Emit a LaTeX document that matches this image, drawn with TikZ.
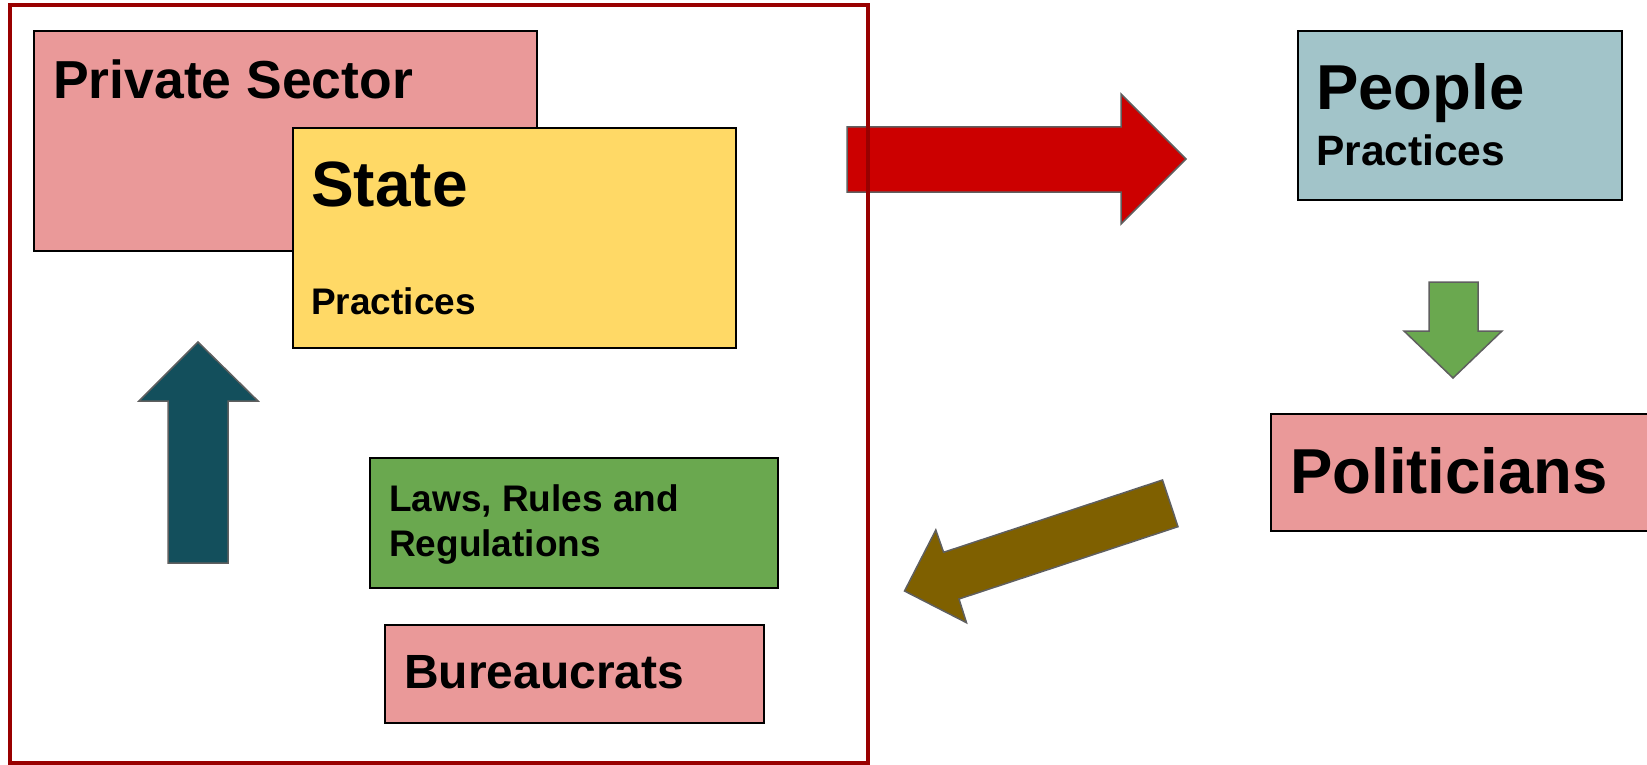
\documentclass[tikz,border=0pt]{standalone}
\usepackage{fontspec}
\setmainfont{Liberation Sans}
\begin{document}
\begin{tikzpicture}[x=1pt,y=-1pt]
\definecolor{rose}{HTML}{EA9999}
\definecolor{gold}{HTML}{FFD966}
\definecolor{leaf}{HTML}{6AA84F}
\definecolor{steel}{HTML}{A2C4C9}
\definecolor{framered}{HTML}{990000}
\definecolor{arrowred}{HTML}{CC0000}
\definecolor{teal}{HTML}{134F5C}
\definecolor{olive}{HTML}{7F6000}
\definecolor{arrowedge}{HTML}{5F5F5F}
\tikzset{
  box/.style={draw=black, line width=2pt, inner sep=0pt, anchor=north west},
  lbl/.style={anchor=base west, inner sep=0pt, font=\bfseries},
  blockarrow/.style={draw=arrowedge, line width=1.5pt, line join=miter},
}
\useasboundingbox (0,0) rectangle (1647,765);
\clip (0,0) rectangle (1647,765);

% boxes of the left panel
\node[box, fill=rose, minimum width=503pt, minimum height=220pt] (privbox) at (33,30) {};
\node[lbl, font=\bfseries\fontsize{53.5}{64}\selectfont] (privtxt) at (53,99) {Private Sector};
\node[box, fill=gold, minimum width=443pt, minimum height=220pt] (statebox) at (292,127) {};
\node[lbl, font=\bfseries\fontsize{64}{76}\selectfont] (statetxt) at (311,207) {State};
\node[lbl, font=\bfseries\fontsize{37}{44}\selectfont] (statepr) at (311,314) {Practices};
\node[box, fill=leaf, minimum width=408pt, minimum height=130pt] (lawsbox) at (369,457) {};
\node[lbl, font=\bfseries\fontsize{37}{44}\selectfont] (lawsone) at (389,511) {Laws, Rules and};
\node[lbl, font=\bfseries\fontsize{37}{44}\selectfont] (lawstwo) at (389,556) {Regulations};
\node[box, fill=rose, minimum width=379pt, minimum height=98pt] (burbox) at (384,624) {};
\node[lbl, font=\bfseries\fontsize{48}{58}\selectfont] (burtxt) at (404,688) {Bureaucrats};

% boxes of the right side
\node[box, fill=steel, minimum width=324pt, minimum height=169pt] (peoplebox) at (1297,30) {};
\node[lbl, font=\bfseries\fontsize{63.5}{76}\selectfont] (peopletxt) at (1316,110) {People};
\node[lbl, font=\bfseries\fontsize{42.5}{51}\selectfont] (peoplepr) at (1316,165) {Practices};
\node[box, fill=rose, minimum width=400pt, minimum height=117pt] (polbox) at (1270,413) {};
\node[lbl, font=\bfseries\fontsize{63.5}{76}\selectfont] (poltxt) at (1290,493) {Politicians};

% block arrows
\draw[blockarrow, fill=teal] (198,342) -- (258,401) -- (228,401) -- (228,563)
  -- (168,563) -- (168,401) -- (139,401) -- cycle;
\draw[blockarrow, fill=arrowred] (847,127) -- (1121,127) -- (1121,94) -- (1186,159)
  -- (1121,224) -- (1121,192) -- (847,192) -- cycle;
\draw[blockarrow, fill=leaf] (1429,282) -- (1478,282) -- (1478,331) -- (1502,331)
  -- (1453,378) -- (1404,331) -- (1429,331) -- cycle;
\draw[blockarrow, fill=olive] (1162.5,480) -- (1178,526.7) -- (959,599) -- (966.5,622.7)
  -- (904.5,591) -- (935.8,530) -- (943.6,552.3) -- cycle;

% frame round the left panel
\draw[framered, line width=4pt] (10.3,4.7) rectangle (867.7,763);
\end{tikzpicture}
\end{document}
